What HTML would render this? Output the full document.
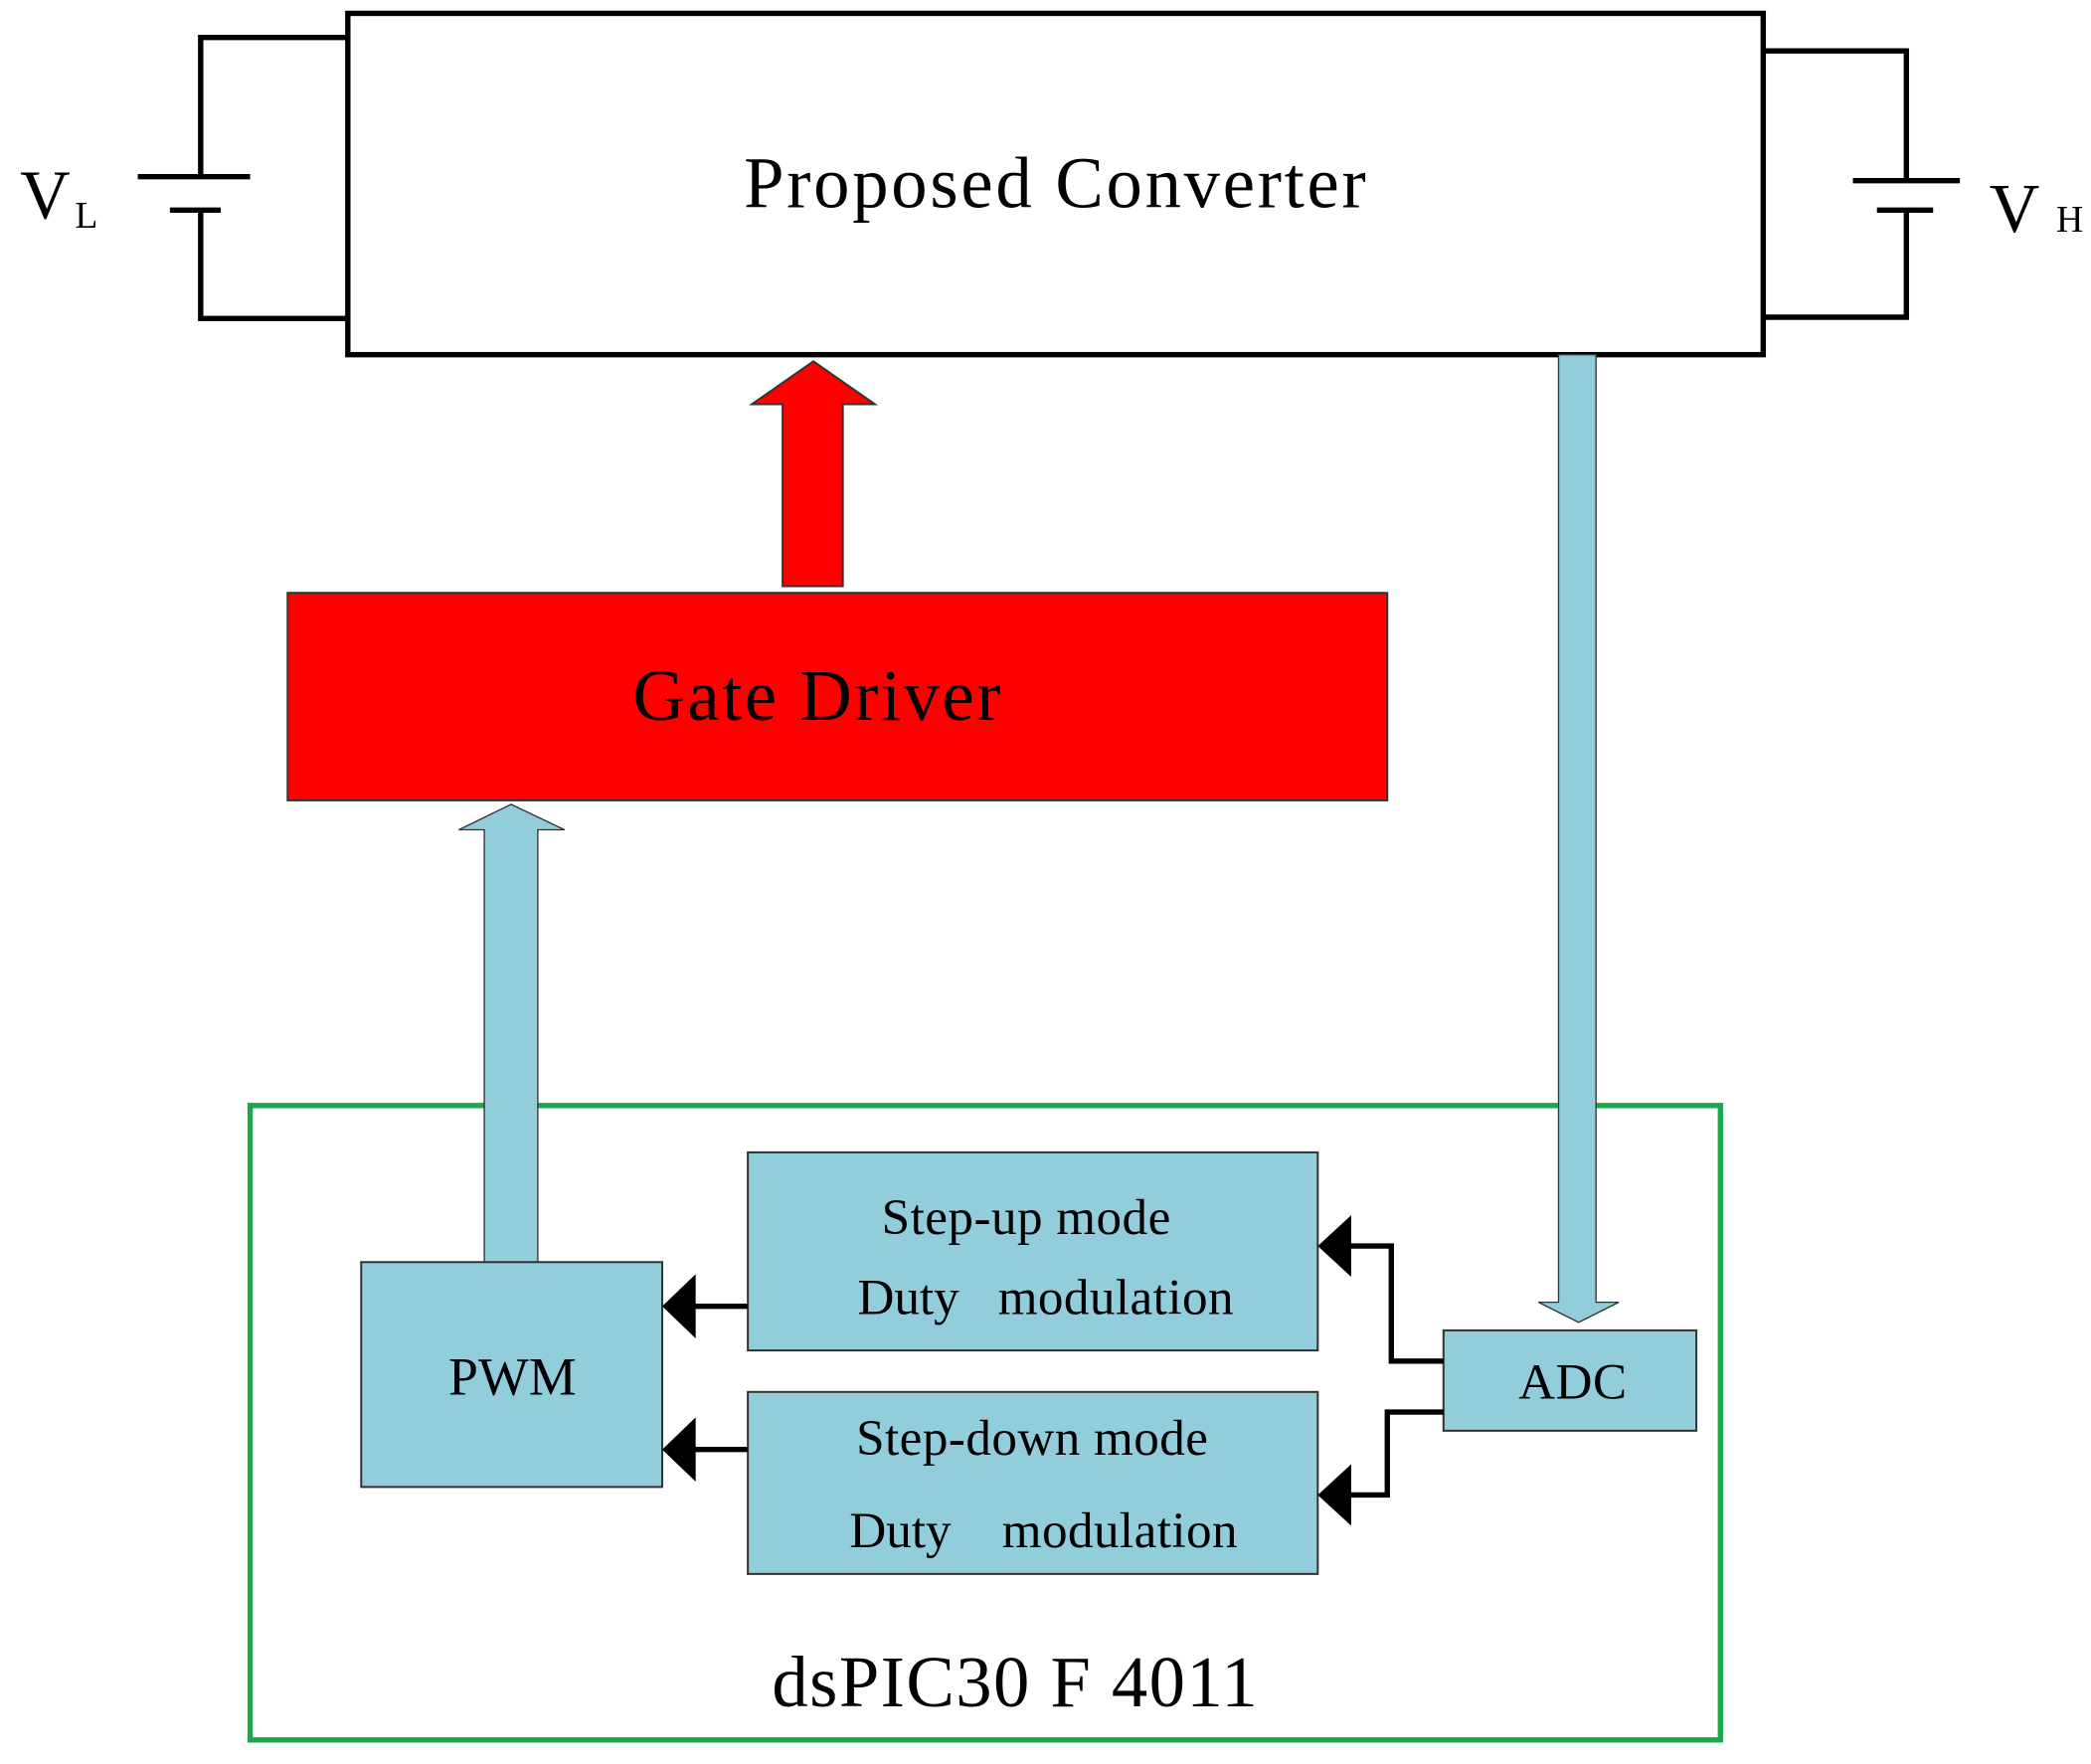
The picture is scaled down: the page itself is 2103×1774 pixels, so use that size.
<!DOCTYPE html>
<html><head><style>html,body{margin:0;padding:0;background:#fff}svg{display:block}</style></head>
<body>
<svg width="2103" height="1774" viewBox="0 0 1563 1318" preserveAspectRatio="none" xmlns="http://www.w3.org/2000/svg" font-family="Liberation Serif, serif">
<rect x="260" y="10" width="1058" height="255" fill="#fff" stroke="#000" stroke-width="4"/>
<text x="556" y="155" font-size="54" textLength="465" lengthAdjust="spacing">Proposed Converter</text>
<g stroke="#000" stroke-width="4" fill="none">
<polyline points="260,28 150,28 150,132"/>
<line x1="103" y1="132" x2="187" y2="132"/>
<line x1="127" y1="157" x2="165" y2="157"/>
<polyline points="150,157 150,238 260,238"/>
<polyline points="1318,38 1425,38 1425,135"/>
<line x1="1385" y1="135" x2="1465" y2="135"/>
<line x1="1403" y1="157" x2="1445" y2="157"/>
<polyline points="1425,157 1425,237 1318,237"/>
</g>
<text x="15" y="163" font-size="52">V</text><text x="56" y="170" font-size="28">L</text>
<text x="1487" y="173" font-size="52">V</text><text x="1537" y="173" font-size="28">H</text>
<polygon points="585,438 630,438 630,302 654,302 608,270 562,302 585,302" fill="#f00" stroke="#333" stroke-width="1.5"/>
<rect x="215" y="443" width="822" height="155" fill="#f00" stroke="#333" stroke-width="1.5"/>
<text x="473" y="538" font-size="54" textLength="275" lengthAdjust="spacing">Gate Driver</text>
<rect x="187" y="826" width="1099" height="474" fill="none" stroke="#1aa84a" stroke-width="4"/>
<polygon points="362,943 402,943 402,620 422,620 382,601 343,620 362,620" fill="#92CDDC" stroke="#333" stroke-width="1"/>
<polygon points="1165,265 1193,265 1193,973 1210,973 1180,988 1150,973 1165,973" fill="#92CDDC" stroke="#333" stroke-width="1"/>
<g fill="#92CDDC" stroke="#333" stroke-width="1.5">
<rect x="270" y="943" width="225" height="168"/>
<rect x="559" y="861" width="426" height="148"/>
<rect x="559" y="1040" width="426" height="136"/>
<rect x="1079" y="994" width="189" height="75"/>
</g>
<g font-size="38">
<text x="383" y="1042" font-size="40" text-anchor="middle">PWM</text>
<text x="659" y="922" textLength="216" lengthAdjust="spacing">Step-up mode</text>
<text x="641" y="982">Duty</text><text x="746" y="982" textLength="176" lengthAdjust="spacing">modulation</text>
<text x="640" y="1087" textLength="263" lengthAdjust="spacing">Step-down mode</text>
<text x="635" y="1156">Duty</text><text x="749" y="1156" textLength="176" lengthAdjust="spacing">modulation</text>
<text x="1135" y="1045" textLength="81" lengthAdjust="spacing">ADC</text>
</g>
<g stroke="#000" stroke-width="4" fill="none">
<line x1="559" y1="976" x2="518" y2="976"/>
<line x1="559" y1="1083" x2="518" y2="1083"/>
<polyline points="1079,1017 1040,1017 1040,931 1008,931"/>
<polyline points="1079,1055 1037,1055 1037,1117 1008,1117"/>
</g>
<g fill="#000">
<polygon points="495,976 520,952 520,1000"/>
<polygon points="495,1083 520,1059 520,1107"/>
<polygon points="985,931 1010,908 1010,954"/>
<polygon points="985,1117 1010,1094 1010,1140"/>
</g>
<text x="577" y="1275" font-size="54" textLength="363" lengthAdjust="spacing">dsPIC30 F 4011</text>
</svg>
</body></html>
